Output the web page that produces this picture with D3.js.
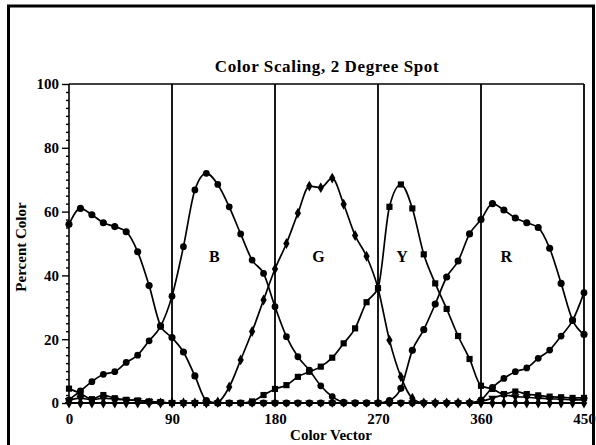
<!DOCTYPE html>
<html>
<head>
<meta charset="utf-8">
<script src="https://cdn.jsdelivr.net/npm/d3@7"></script>
<style>
  body { margin: 0; background: #fff; }
  svg { display: block; }
  text { font-family: "Liberation Serif", "Times New Roman", serif; fill: #000; }
  .axis text { font-size: 15px; font-weight: bold; }
  .axis path { display: none; }
  .axis line { stroke: #000; stroke-width: 1.4; }
</style>
</head>
<body>
<svg width="596" height="445"></svg>
<script>
// color vector in degrees, one reading every 10 degrees
var angles = [0, 10, 20, 30, 40, 50, 60, 70, 80, 90,
              100, 110, 120, 130, 140, 150, 160, 170, 180, 190,
              200, 210, 220, 230, 240, 250, 260, 270, 280, 290,
              300, 310, 320, 330, 340, 350, 360, 370, 380, 390,
              400, 410, 420, 430, 440, 450];

var red    = [56, 61, 59, 56.5, 55.3, 53.7, 47.4, 36.8, 24.2, 20.5,
              16, 8.5, 0.8, 0, 0, 0, 0, 0, 0, 0,
              0, 0, 0, 0, 0, 0, 0, 0, 0.8, 4.6,
              16.5, 23, 31, 39.5, 44.5, 53, 57.5, 62.5, 60.5, 58,
              56.5, 55, 48.5, 37.5, 26, 21.5];

var blue   = [1, 3.8, 6.7, 9, 9.8, 12.7, 15, 19.5, 24, 33.5,
              49, 66.8, 72, 68.5, 61.5, 53, 44.8, 40.6, 30.2, 20.8,
              14.5, 10.3, 5.4, 2, 0.3, 0, 0, 0, 0, 0,
              0, 0, 0, 0, 0, 0, 1, 4.9, 7.7, 9.8,
              11, 14, 16.6, 21, 25.8, 34.6];

var green  = [0, 0, 0, 0, 0, 0, 0, 0, 0, 0,
              0, 0, 0, 0.3, 5, 13.5, 22.4, 32.3, 42, 50,
              59.5, 68, 67.5, 70.5, 62.3, 52.5, 46, 36, 19.7, 8.2,
              1.5, 0, 0, 0, 0, 0, 0, 0, 0, 0,
              0, 0, 0, 0, 0, 0];

var yellow = [4.5, 3, 1.2, 2.5, 1.5, 1, 0.8, 0.5, 0.3, 0,
              0, 0, 0, 0, 0, 0, 0.5, 2.5, 4.4, 5.6,
              8.2, 9.8, 11.4, 14.2, 18.7, 23.4, 31.6, 36, 61.5, 68.5,
              61, 46.6, 37.5, 29.5, 21, 13.8, 5.4, 4.4, 2.8, 3.6,
              2.8, 2.4, 2, 1.8, 1.6, 1.6];

var other  = [0.8, 1.5, 1, 1.5, 1.2, 1, 0.8, 0.5, 0.3, 0,
              0, 0, 0, 0, 0, 0, 0, 0, 0, 0,
              0, 0, 0, 0, 0, 0, 0, 0, 0, 0,
              0, 0, 0, 0, 0, 0, 0.5, 1.5, 2.5, 2,
              1.8, 1.5, 1.3, 1.2, 1, 1];

var xTicks = [0, 90, 180, 270, 360, 450];
var yTicks = [0, 20, 40, 60, 80, 100];
var bands = [{label: "B", at: 127}, {label: "G", at: 218}, {label: "Y", at: 291}, {label: "R", at: 382}];

var svg = d3.select("svg");

var x = d3.scaleLinear().domain([0, 450]).range([69, 584]),
    y = d3.scaleLinear().domain([0, 100]).range([403, 84]);

// outer frame of the scanned page
svg.append("path")
    .attr("d", "M8.5,445 V6 H593.5 V445")
    .attr("fill", "none")
    .attr("stroke", "#000")
    .attr("stroke-width", 3);

// plot box + sector dividers
svg.append("line")
    .attr("x1", x(0)).attr("x2", x(450))
    .attr("y1", y(100)).attr("y2", y(100))
    .attr("stroke", "#000").attr("stroke-width", 1.6);

svg.selectAll(".divider")
    .data(xTicks)
    .enter().append("line")
    .attr("class", "divider")
    .attr("x1", function(d) { return x(d); })
    .attr("x2", function(d) { return x(d); })
    .attr("y1", y(100))
    .attr("y2", y(0))
    .attr("stroke", "#000")
    .attr("stroke-width", function(d) { return d == 0 ? 1.6 : 1.8; });

svg.append("line")
    .attr("x1", x(0) - 4).attr("x2", x(450) + 2)
    .attr("y1", y(0)).attr("y2", y(0))
    .attr("stroke", "#000").attr("stroke-width", 1.8);

// y axis: minor ticks then major ticks with labels
var minor = [];
for (var v = 0; v <= 100; v += 2.5) if (v % 20) minor.push(v);

svg.append("g")
    .attr("class", "axis")
    .attr("transform", "translate(" + x(0) + ",0)")
    .call(d3.axisLeft(y).tickValues(minor).tickSize(3).tickFormat(""));

svg.append("g")
    .attr("class", "axis")
    .attr("transform", "translate(" + x(0) + ",0)")
    .call(d3.axisLeft(y).tickValues(yTicks).tickSize(7).tickPadding(3));

svg.append("g")
    .attr("class", "axis")
    .attr("transform", "translate(0," + y(0) + ")")
    .call(d3.axisBottom(x).tickValues(xTicks).tickSize(0).tickPadding(10));

// series
var line = d3.line()
    .curve(d3.curveMonotoneX)
    .x(function(d) { return x(d[0]); })
    .y(function(d) { return y(d[1]); });

var series = [
  {name: "R", values: red, symbol: d3.symbolCircle, size: 40},
  {name: "B", values: blue, symbol: d3.symbolCircle, size: 36},
  {name: "G", values: green, symbol: d3.symbolDiamond, size: 34},
  {name: "Y", values: yellow, symbol: d3.symbolSquare, size: 38},
  {name: "other", values: other, symbol: d3.symbolTriangle, size: 30}
];

series.forEach(function(s) {
  var pts = angles.map(function(a, i) { return [a, s.values[i]]; });

  svg.append("path")
      .datum(pts)
      .attr("fill", "none")
      .attr("stroke", "#000")
      .attr("stroke-width", 1.7)
      .attr("d", line);

  svg.selectAll(".pt-" + s.name)
      .data(pts)
      .enter().append("path")
      .attr("class", "pt-" + s.name)
      .attr("transform", function(d) {
        return "translate(" + x(d[0]) + "," + y(d[1]) + ")" + (s.name == "other" ? " rotate(180)" : "");
      })
      .attr("d", d3.symbol().type(s.symbol).size(s.size))
      .attr("fill", "#000");
});

// sector letters
svg.selectAll(".band")
    .data(bands)
    .enter().append("text")
    .attr("class", "band")
    .attr("x", function(d) { return x(d.at); })
    .attr("y", 262)
    .attr("text-anchor", "middle")
    .style("font-size", "16px")
    .style("font-weight", "bold")
    .text(function(d) { return d.label; });

// titles
svg.append("text")
    .attr("x", 327).attr("y", 72)
    .attr("text-anchor", "middle")
    .style("font-size", "17px").style("font-weight", "bold")
    .style("letter-spacing", "0.6px")
    .text("Color Scaling, 2 Degree Spot");

svg.append("text")
    .attr("x", 331).attr("y", 440)
    .attr("text-anchor", "middle")
    .style("font-size", "15px").style("font-weight", "bold")
    .text("Color Vector");

svg.append("text")
    .attr("transform", "translate(26,247) rotate(-90)")
    .attr("text-anchor", "middle")
    .style("font-size", "15px").style("font-weight", "bold")
    .text("Percent Color");
</script>
</body>
</html>
